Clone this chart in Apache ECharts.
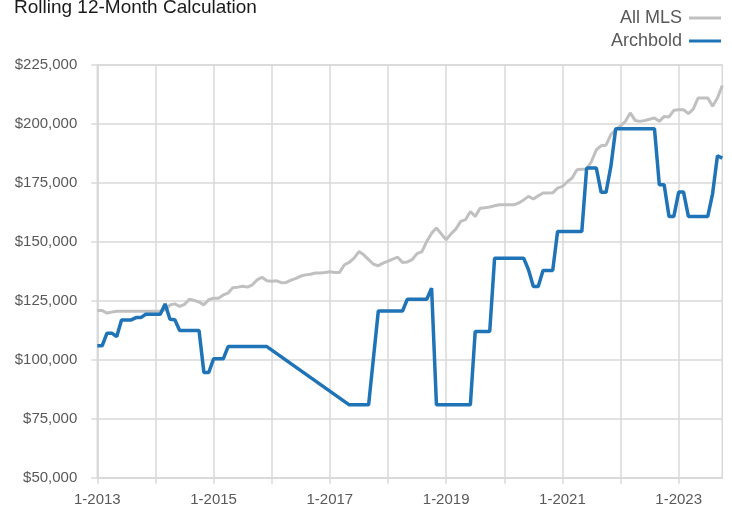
<!DOCTYPE html>
<html>
<head>
<meta charset="utf-8">
<script src="https://cdn.jsdelivr.net/npm/echarts@6/dist/echarts.min.js"></script>
<style>
html,body{margin:0;padding:0;background:#fff;}
#chart{width:732px;height:512px;}
</style>
</head>
<body>
<div id="chart"></div>
<script>
// Monthly categories: 1-2013 .. 10-2023
const startYear = 2013;
const monthCount = 130;
const categories = [];
for (let k = 0; k < monthCount; k++) {
  categories.push(((k % 12) + 1) + '-' + (startYear + Math.floor(k / 12)));
}

const seriesNames = ['All MLS', 'Archbold'];

// All MLS rolling 12-month value (in $)
const allMLS = [
  120900,120900,119800,120200,120600,120600,120600,120600,120600,120600,120600,120600,
  120600,120600,121200,123200,123700,122600,123500,125700,125200,124500,123300,125500,
  126100,126100,127500,128300,130600,130800,131200,130800,131800,133900,135000,133500,
  133300,133500,132700,132800,133800,134500,135500,136000,136300,136800,136800,137000,
  137300,137000,137000,140300,141300,143100,145900,144500,142500,140500,139900,141000,
  141800,142700,143500,141300,141500,142500,145000,145900,150200,153700,155900,153400,
  150900,153400,155400,158700,159400,162900,160800,164300,164500,164800,165300,165700,
  165700,165700,165700,166500,167800,169300,168200,169500,170700,170700,170800,172800,
  173500,175500,177100,180600,180800,180900,184100,189000,190800,191000,195500,197500,
  199200,201100,204700,201500,201100,201500,202000,202500,201100,203200,203000,205800,
  206000,206000,204400,206300,211000,211000,211000,207500,211000,216300
];

// Archbold rolling 12-month value (in $); null = no value (line connects across)
const archbold = [
  105900,105900,111300,111300,109800,116900,116900,116900,117900,117900,119300,119300,
  119300,119300,123700,117200,117000,112400,112400,112400,112400,112400,94600,94600,
  100400,100400,100400,105600,105600,105600,105600,105600,105600,105600,105600,105600,
  null,null,null,null,null,null,null,null,null,null,null,null,
  null,null,null,null,80900,80900,80900,80900,80900,null,120700,120700,
  120700,120700,120700,120700,125700,125700,125700,125700,125700,130400,80900,80900,
  80900,80900,80900,80900,80900,80900,112000,112000,112000,112000,143100,143100,
  143100,143100,143100,143100,143100,138200,131100,131100,137900,137900,137900,154400,
  154400,154400,154400,154400,154400,181300,181300,181300,171000,171000,182000,198000,
  198000,198000,198000,198000,198000,198000,198000,198000,174200,174200,160800,160800,
  171100,171100,160800,160800,160800,160800,160800,170500,186500,185500
];

const yTicks = { min: 50000, max: 225000, step: 25000 };

const gridColor = '#d9d9d9';
const textColor = '#595959';
const fontFam = '"Liberation Sans", Arial, sans-serif';

const chart = echarts.init(document.getElementById('chart'), null, { renderer: 'canvas' });
chart.setOption({
  animation: false,
  backgroundColor: '#fff',
  title: {
    text: 'Rolling 12-Month Calculation',
    left: 9,
    top: -7,
    textStyle: { fontFamily: fontFam, fontSize: 19, fontWeight: 'normal', color: '#1a1a1a' }
  },
  legend: {
    data: seriesNames,
    orient: 'vertical',
    right: 6,
    top: 4,
    align: 'right',
    itemGap: 5,
    itemWidth: 32,
    itemHeight: 3,
    icon: 'rect',
    textStyle: { fontFamily: fontFam, fontSize: 18, color: textColor, padding: [0, 2, 0, 0] }
  },
  grid: {
    left: 97.3, right: 9.7, top: 65, bottom: 34.3,
    show: true, borderColor: gridColor, borderWidth: 1.5
  },
  xAxis: {
    type: 'category',
    data: categories,
    boundaryGap: false,
    axisLine: { lineStyle: { color: gridColor, width: 1.5 } },
    axisTick: { show: true, interval: 11, length: 6, lineStyle: { color: gridColor, width: 1.5 } },
    axisLabel: { interval: 23, margin: 15, color: textColor, fontFamily: fontFam, fontSize: 15 },
    splitLine: { show: true, interval: 11, lineStyle: { color: gridColor, width: 1.5 } }
  },
  yAxis: {
    type: 'value',
    min: yTicks.min, max: yTicks.max, interval: yTicks.step,
    axisLine: { show: true, lineStyle: { color: gridColor, width: 1.5 } },
    axisTick: { show: true, length: 6, lineStyle: { color: gridColor, width: 1.5 } },
    axisLabel: {
      margin: 20, color: textColor, fontFamily: fontFam, fontSize: 15,
      formatter: v => '$' + v.toLocaleString('en-US')
    },
    splitLine: { show: true, lineStyle: { color: gridColor, width: 1.5 } }
  },
  series: [
    {
      name: seriesNames[0], type: 'line', data: allMLS,
      symbol: 'none', connectNulls: true,
      itemStyle: { color: '#c0c0c0' },
      lineStyle: { color: '#c0c0c0', width: 3 }
    },
    {
      name: seriesNames[1], type: 'line', data: archbold,
      symbol: 'none', connectNulls: true,
      itemStyle: { color: '#1f73b7' },
      lineStyle: { color: '#1f73b7', width: 3.5 }
    }
  ]
});
</script>
</body>
</html>
